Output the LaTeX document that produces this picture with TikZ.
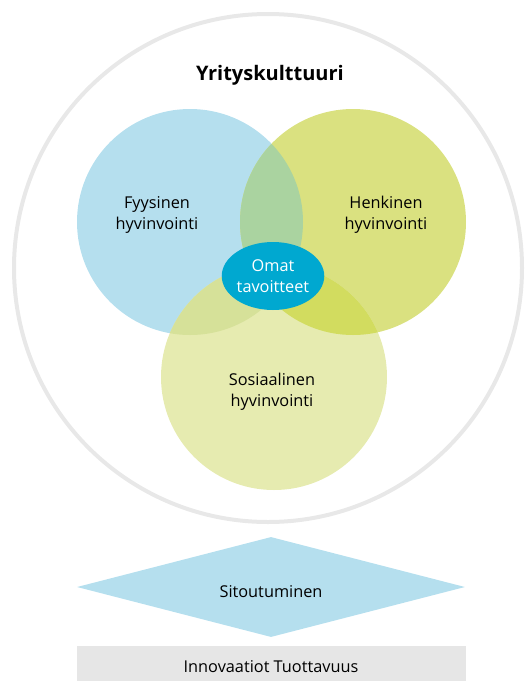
\documentclass[tikz,border=0pt]{standalone}
\usepackage{fontspec}
\setmainfont{Open Sans}
\usetikzlibrary{shapes.geometric}
\definecolor{physblue}{HTML}{B5DFEE}
\definecolor{mindgreen}{HTML}{DAE180}
\definecolor{socgreen}{HTML}{E6EBB0}
\definecolor{bluemind}{HTML}{AAD3A0}
\definecolor{bluesoc}{HTML}{D6E199}
\definecolor{mindsoc}{HTML}{D2DC5F}
\definecolor{goalblue}{HTML}{00A8D0}
\definecolor{ringgray}{HTML}{E8E8E8}
\definecolor{bargray}{HTML}{E6E6E6}
\tikzset{
  area/.style={circle, minimum size=226pt, inner sep=0pt, draw=none},
  body font/.style={font=\fontsize{16.3}{21}\selectfont},
  label text/.style={align=center, body font, text=black},
}
\begin{document}
\begin{tikzpicture}[x=1pt,y=-1pt]
\useasboundingbox (0,0) rectangle (525,681);
% outer ring: company culture
\node[circle, minimum size=508pt, inner sep=0pt, draw=ringgray, line width=4pt] (culture) at (268,268) {};
\node[font=\bfseries\fontsize{20}{24}\selectfont] (title) at (270,75) {Yrityskulttuuri};
% three wellbeing areas
\node[area, fill=physblue] (phys) at (190,222) {};
\node[area, fill=mindgreen] (mind) at (353,222) {};
\node[area, fill=socgreen] (soc) at (274,377) {};
% overlaps
\begin{scope}
  \clip (190,222) circle [radius=113pt];
  \fill[bluemind] (353,222) circle [radius=113pt];
  \fill[bluesoc] (274,377) circle [radius=113pt];
\end{scope}
\begin{scope}
  \clip (353,222) circle [radius=113pt];
  \fill[mindsoc] (274,377) circle [radius=113pt];
\end{scope}
\node[label text] (physlbl) at (157,215) {Fyysinen\\hyvinvointi};
\node[label text] (mindlbl) at (386,215) {Henkinen\\hyvinvointi};
\node[label text] (soclbl) at (272,392) {Sosiaalinen\\hyvinvointi};
% personal goals
\node[ellipse, fill=goalblue, minimum width=101pt, minimum height=68pt, inner sep=0pt,
      align=center, text=white, body font] (goals) at (273,276) {Omat\\tavoitteet};
% commitment
\node[diamond, fill=physblue, inner sep=0pt, minimum width=388pt, minimum height=100pt,
      aspect=3.88] (commit) at (271,587) {};
\node[body font] (commitlbl) at (271,592) {Sitoutuminen};
% results bar
\node[fill=bargray, minimum width=389pt, minimum height=36pt, inner sep=0pt] (results) at (271.5,664) {};
\node[body font] (resultslbl) at (271,667) {Innovaatiot Tuottavuus};
\end{tikzpicture}
\end{document}
